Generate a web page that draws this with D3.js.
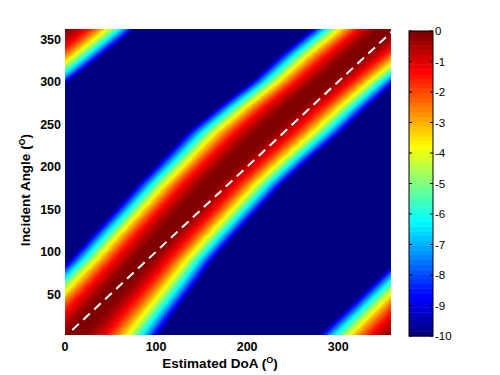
<!DOCTYPE html>
<html>
<head>
<meta charset="utf-8">
<script src="https://cdn.jsdelivr.net/npm/d3@7"></script>
<style>
  body { margin: 0; background: #fff; }
  svg { display: block; font-family: "Liberation Sans", Arial, sans-serif; }
</style>
</head>
<body>
<svg id="chart" width="500" height="375"></svg>
<script>
// Data
// ----
// incident angle samples, and where the main lobe hits -10 dB on each side (DoA)
var incidentAngles = [0, 30, 60, 90, 120, 150, 180, 210, 240, 270, 300, 330, 360];
var edgeLow  = [-85, -55, -26, 3, 28, 54, 79, 106, 132, 166, 203, 233, 267];
var edgeHigh = [103, 123, 144, 164, 189, 215, 241, 272, 305, 334, 365, 401, 436];
var diagLine = [8, 360];
var xTicks = [0, 100, 200, 300];
var yTicks = [50, 100, 150, 200, 250, 300, 350];
var cTicks = [0, -1, -2, -3, -4, -5, -6, -7, -8, -9, -10];

var svg = d3.select("#chart");

// Scales
// ------
var x = d3.scaleLinear().domain([0, 358]).range([65, 391]);
var y = d3.scaleLinear().domain([2, 362]).range([335, 29]);
var c = d3.scaleLinear().domain([-10, 0]).range([336, 31]);

var lowAt = d3.scaleLinear().domain(incidentAngles).range(edgeLow);
var highAt = d3.scaleLinear().domain(incidentAngles).range(edgeHigh);

function jet(t) {
  var cl = function (v) { return Math.max(0, Math.min(1, v)); };
  var r = cl(1.5 - Math.abs(4 * t - 3)),
      g = cl(1.5 - Math.abs(4 * t - 2)),
      b = cl(1.5 - Math.abs(4 * t - 1));
  return [Math.round(r * 255), Math.round(g * 255), Math.round(b * 255)];
}
function level(v) {
  var k = Math.floor((v + 10) / 10 * 64);
  return Math.max(0, Math.min(63, k));
}

function valueAt(doa, inc) {
  var lo = lowAt(inc), hi = highAt(inc);
  var ctr = (lo + hi) / 2, hw = (hi - lo) / 2;
  var d = ((doa - ctr) % 360 + 540) % 360 - 180;
  return Math.max(-10, -10 * Math.pow(Math.abs(d) / hw, 2));
}

// Heatmap
// -------
var x0 = x.range()[0], x1 = x.range()[1], y0 = y.range()[1], y1 = y.range()[0];
var pw = x1 - x0, ph = y1 - y0;
var canvas = document.createElement("canvas");
canvas.width = pw; canvas.height = ph;
var ctx = canvas.getContext("2d");
var img = ctx.createImageData(pw, ph);
for (var j = 0; j < ph; j++) {
  var inc = y.invert(y0 + j + 0.5);
  for (var i = 0; i < pw; i++) {
    var doa = x.invert(x0 + i + 0.5);
    var col = jet(level(valueAt(doa, inc)) / 63);
    var p = (j * pw + i) * 4;
    img.data[p] = col[0]; img.data[p + 1] = col[1]; img.data[p + 2] = col[2]; img.data[p + 3] = 255;
  }
}
ctx.putImageData(img, 0, 0);

svg.append("image")
  .attr("x", x0).attr("y", y0)
  .attr("width", pw).attr("height", ph)
  .attr("preserveAspectRatio", "none")
  .attr("href", canvas.toDataURL());

svg.append("clipPath").attr("id", "plotclip")
  .append("rect").attr("x", x0).attr("y", y0).attr("width", pw).attr("height", ph);

// Dashed diagonal
// ---------------
svg.append("path")
  .datum(diagLine)
  .attr("clip-path", "url(#plotclip)")
  .attr("d", d3.line().x(function (d) { return x(d); }).y(function (d) { return y(d); }))
  .attr("fill", "none")
  .attr("stroke", "#fff")
  .attr("stroke-width", 2)
  .attr("stroke-dasharray", "9,6");

// Tick labels
// -----------
svg.selectAll(".xtick").data(xTicks).enter()
  .append("text")
  .attr("class", "xtick")
  .attr("x", function (d) { return x(d); })
  .attr("y", 351)
  .attr("text-anchor", "middle")
  .attr("font-size", 12.5)
  .attr("font-weight", "bold")
  .text(function (d) { return d; });

svg.selectAll(".ytick").data(yTicks).enter()
  .append("text")
  .attr("class", "ytick")
  .attr("x", 61)
  .attr("y", function (d) { return y(d) + 4.5; })
  .attr("text-anchor", "end")
  .attr("font-size", 12.5)
  .attr("font-weight", "bold")
  .text(function (d) { return d; });

// Axis labels
// -----------
var xl = svg.append("text")
  .attr("x", 220).attr("y", 368)
  .attr("text-anchor", "middle")
  .attr("font-size", 13.5)
  .attr("font-weight", "bold");
xl.append("tspan").text("Estimated DoA (");
xl.append("tspan").attr("font-size", 9).attr("dy", -5).text("O");
xl.append("tspan").attr("dy", 5).text(")");

var yl = svg.append("text")
  .attr("transform", "translate(30,190) rotate(-90)")
  .attr("text-anchor", "middle")
  .attr("font-size", 13.5)
  .attr("font-weight", "bold");
yl.append("tspan").text("Incident Angle (");
yl.append("tspan").attr("font-size", 9).attr("dy", -5).text("O");
yl.append("tspan").attr("dy", 5).text(")");

// Colorbar
// --------
var cbx = 409, cbw = 24;
var levels = d3.range(64);
svg.selectAll(".cb").data(levels).enter()
  .append("rect")
  .attr("class", "cb")
  .attr("x", cbx)
  .attr("y", function (k) { return c(-10 + (k + 1) * 10 / 64); })
  .attr("width", cbw)
  .attr("height", function (k) { return c(-10 + k * 10 / 64) - c(-10 + (k + 1) * 10 / 64) + 0.5; })
  .attr("fill", function (k) { return "rgb(" + jet(k / 63).join(",") + ")"; });

svg.append("rect")
  .attr("x", cbx).attr("y", c(0))
  .attr("width", cbw).attr("height", c(-10) - c(0))
  .attr("fill", "none").attr("stroke", "#000").attr("stroke-width", 1);

svg.selectAll(".cbtickR").data(cTicks).enter()
  .append("line")
  .attr("x1", cbx + cbw - 3).attr("x2", cbx + cbw)
  .attr("y1", function (d) { return c(d); }).attr("y2", function (d) { return c(d); })
  .attr("stroke", "#000");

svg.selectAll(".cbtickL").data(cTicks).enter()
  .append("line")
  .attr("x1", cbx).attr("x2", cbx + 3)
  .attr("y1", function (d) { return c(d); }).attr("y2", function (d) { return c(d); })
  .attr("stroke", "#000");

svg.selectAll(".cblabel").data(cTicks).enter()
  .append("text")
  .attr("x", cbx + cbw + 2)
  .attr("y", function (d) { return c(d) + 4; })
  .attr("font-size", 11.5)
  .text(function (d) { return String(d); });
</script>
</body>
</html>
